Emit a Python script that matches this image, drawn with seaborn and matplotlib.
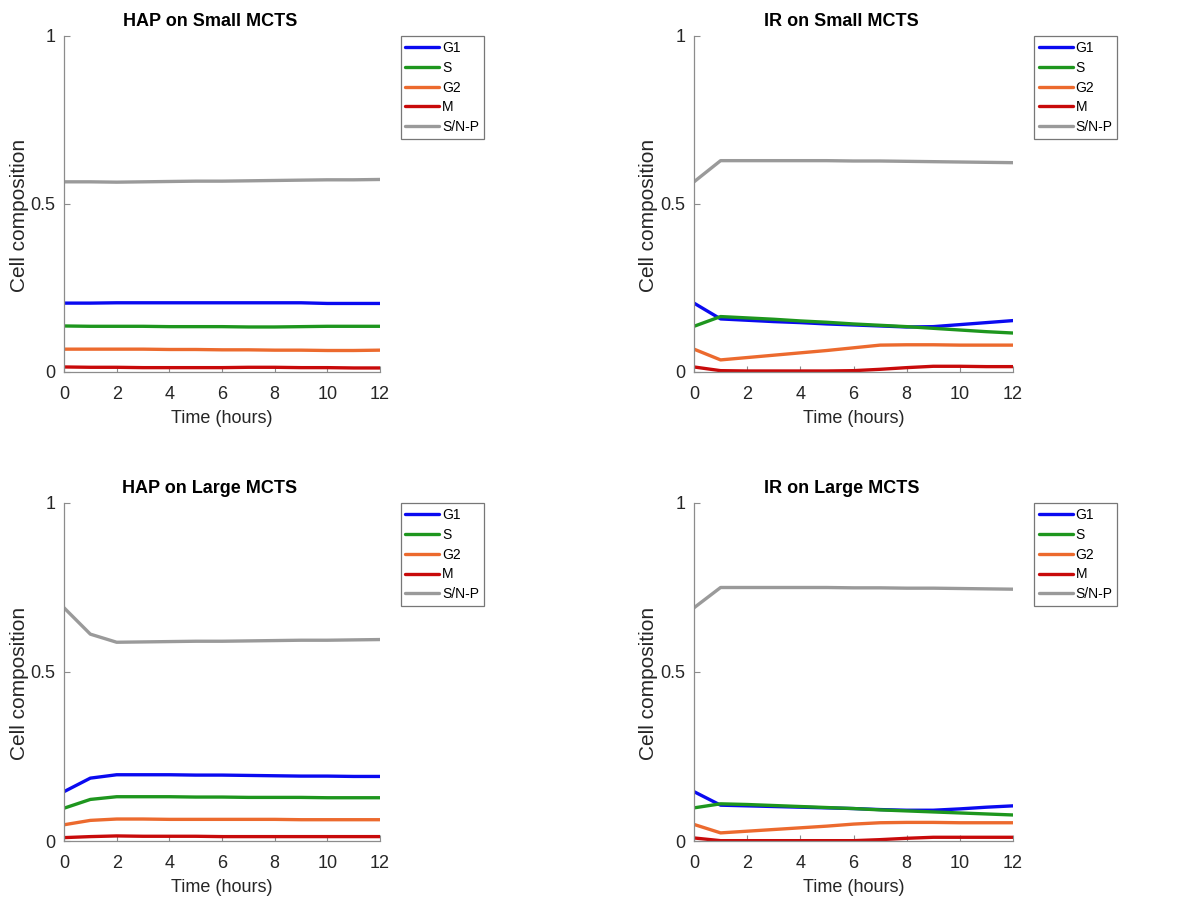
import numpy as np
import pandas as pd
import matplotlib
matplotlib.use("Agg")
import matplotlib.pyplot as plt
import seaborn as sns

# ---------------- data ----------------
hours = [0, 1, 2, 3, 4, 5, 6, 7, 8, 9, 10, 11, 12]
phases = ["G1", "S", "G2", "M", "S/N-P"]
titles = ["HAP on Small MCTS", "IR on Small MCTS", "HAP on Large MCTS", "IR on Large MCTS"]

hap_small_g1 = [0.205, 0.205, 0.206, 0.206, 0.206, 0.206, 0.206, 0.206, 0.206, 0.206, 0.204, 0.204, 0.204]
hap_small_s = [0.137, 0.136, 0.136, 0.136, 0.135, 0.135, 0.135, 0.134, 0.134, 0.135, 0.136, 0.136, 0.136]
hap_small_g2 = [0.068, 0.068, 0.068, 0.068, 0.067, 0.067, 0.066, 0.066, 0.065, 0.065, 0.064, 0.064, 0.065]
hap_small_m = [0.015, 0.014, 0.014, 0.013, 0.013, 0.013, 0.013, 0.014, 0.014, 0.013, 0.013, 0.012, 0.012]
hap_small_snp = [0.566, 0.566, 0.565, 0.566, 0.567, 0.568, 0.568, 0.569, 0.570, 0.571, 0.572, 0.572, 0.573]

ir_small_g1 = [0.205, 0.158, 0.154, 0.150, 0.147, 0.143, 0.140, 0.137, 0.134, 0.135, 0.141, 0.147, 0.153]
ir_small_s = [0.136, 0.165, 0.161, 0.157, 0.152, 0.148, 0.143, 0.139, 0.135, 0.130, 0.125, 0.120, 0.116]
ir_small_g2 = [0.068, 0.036, 0.043, 0.050, 0.057, 0.064, 0.072, 0.080, 0.081, 0.081, 0.080, 0.080, 0.080]
ir_small_m = [0.015, 0.004, 0.003, 0.003, 0.003, 0.003, 0.004, 0.008, 0.013, 0.017, 0.017, 0.016, 0.016]
ir_small_snp = [0.566, 0.629, 0.629, 0.629, 0.629, 0.629, 0.628, 0.628, 0.627, 0.626, 0.625, 0.624, 0.623]

hap_large_g1 = [0.146, 0.186, 0.196, 0.196, 0.196, 0.195, 0.195, 0.194, 0.193, 0.192, 0.192, 0.191, 0.191]
hap_large_s = [0.097, 0.123, 0.131, 0.131, 0.131, 0.130, 0.130, 0.129, 0.129, 0.129, 0.128, 0.128, 0.128]
hap_large_g2 = [0.048, 0.061, 0.065, 0.065, 0.064, 0.064, 0.064, 0.064, 0.064, 0.063, 0.063, 0.063, 0.063]
hap_large_m = [0.010, 0.013, 0.015, 0.014, 0.014, 0.014, 0.013, 0.013, 0.013, 0.013, 0.013, 0.013, 0.013]
hap_large_snp = [0.690, 0.612, 0.588, 0.589, 0.590, 0.591, 0.591, 0.592, 0.593, 0.594, 0.594, 0.595, 0.596]

ir_large_g1 = [0.146, 0.106, 0.104, 0.102, 0.100, 0.098, 0.096, 0.093, 0.091, 0.091, 0.095, 0.100, 0.104]
ir_large_s = [0.098, 0.110, 0.108, 0.105, 0.102, 0.099, 0.096, 0.092, 0.089, 0.086, 0.083, 0.080, 0.077]
ir_large_g2 = [0.049, 0.024, 0.029, 0.034, 0.039, 0.044, 0.050, 0.054, 0.055, 0.055, 0.054, 0.054, 0.054]
ir_large_m = [0.009, 0.001, 0.001, 0.001, 0.001, 0.001, 0.001, 0.004, 0.008, 0.011, 0.011, 0.011, 0.011]
ir_large_snp = [0.690, 0.750, 0.750, 0.750, 0.750, 0.750, 0.749, 0.749, 0.748, 0.748, 0.747, 0.746, 0.745]

panels = [
    [hap_small_g1, hap_small_s, hap_small_g2, hap_small_m, hap_small_snp],
    [ir_small_g1, ir_small_s, ir_small_g2, ir_small_m, ir_small_snp],
    [hap_large_g1, hap_large_s, hap_large_g2, hap_large_m, hap_large_snp],
    [ir_large_g1, ir_large_s, ir_large_g2, ir_large_m, ir_large_snp],
]

x_ticks = [0, 2, 4, 6, 8, 10, 12]
y_ticks = [0, 0.5, 1]
y_ticklabels = ["0", "0.5", "1"]

colors = ["#0a0af0", "#1e961e", "#ec6a2e", "#c80a0a", "#9a9a9a"]

# ---------------- style ----------------
sns.set_theme(style="ticks")
plt.rcParams["font.family"] = ["Liberation Sans", "DejaVu Sans"]
spine_col = "#8c8c8c"
text_col = "#262626"

fig = plt.figure(figsize=(11.95, 8.99), dpi=100)

# axes rectangles (left, top, right, bottom) in pixels
W, H = 1195.0, 899.0
rects = [
    (64, 36, 380, 372),
    (694, 36, 1013, 372),
    (64, 503, 380, 841),
    (694, 503, 1013, 841),
]

for idx, (l, t, r, b) in enumerate(rects):
    ax = fig.add_axes([l / W, 1 - b / H, (r - l) / W, (b - t) / H])
    rows = []
    for ph, vals in zip(phases, panels[idx]):
        for h, v in zip(hours, vals):
            rows.append({"Time": h, "Value": v, "Phase": ph})
    df = pd.DataFrame(rows)
    sns.lineplot(data=df, x="Time", y="Value", hue="Phase", hue_order=phases,
                 palette=colors, linewidth=2.4, ax=ax, legend=True)
    ax.set_xlim(0, 12)
    ax.set_ylim(0, 1)
    ax.set_xticks(x_ticks)
    ax.set_xticklabels([str(v) for v in x_ticks])
    ax.set_yticks(y_ticks)
    ax.set_yticklabels(y_ticklabels)
    sns.despine(ax=ax)
    for sp in ["left", "bottom"]:
        ax.spines[sp].set_color(spine_col)
        ax.spines[sp].set_linewidth(0.9)
    ax.tick_params(direction="in", length=4, width=0.8, color=spine_col,
                   labelcolor=text_col, labelsize=13)
    ax.tick_params(axis="x", pad=10)
    ax.tick_params(axis="y", pad=6)
    ax.set_xlabel("Time (hours)", fontsize=13, color=text_col, labelpad=5)
    ax.set_ylabel("Cell composition", fontsize=15, color=text_col)
    ax.yaxis.set_label_coords(-0.112, 0.467)
    ax.set_title(titles[idx], fontsize=13, fontweight="bold", color="black",
                 x=0.462, pad=7)
    sns.move_legend(ax, "upper left", bbox_to_anchor=(1.065, 1.0), borderaxespad=0,
                    frameon=True, fancybox=False, fontsize=10, title="",
                    handlelength=2.45, handletextpad=0.2, labelspacing=0.42,
                    borderpad=0.35)
    leg = ax.get_legend()
    leg.get_frame().set_edgecolor("#555555")
    leg.get_frame().set_linewidth(0.9)
    for txt in leg.get_texts():
        txt.set_color("black")

fig.savefig("out.png", dpi=100, facecolor="white")
